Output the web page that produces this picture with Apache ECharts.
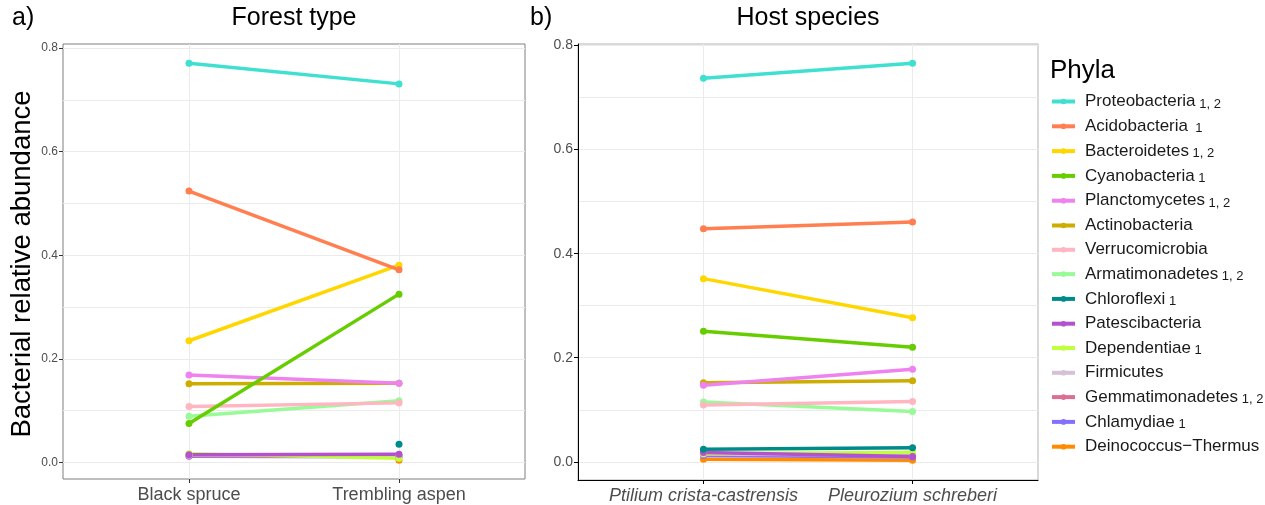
<!DOCTYPE html>
<html><head><meta charset="utf-8">
<script src="https://cdn.jsdelivr.net/npm/echarts@6/dist/echarts.min.js"></script>
<style>html,body{margin:0;padding:0;background:#fff}#c{width:1265px;height:505px}</style>
</head><body><div id="c"></div>
<script>
// ---- data ----
const phyla = ['Proteobacteria','Acidobacteria','Bacteroidetes','Cyanobacteria','Planctomycetes','Actinobacteria','Verrucomicrobia','Armatimonadetes','Chloroflexi','Patescibacteria','Dependentiae','Firmicutes','Gemmatimonadetes','Chlamydiae','Deinococcus\u2212Thermus'];
const significance = [' 1, 2','  1',' 1, 2',' 1',' 1, 2','','',' 1, 2',' 1','',' 1','',' 1, 2',' 1',''];
const colors = ['#40E0D0','#FF7F50','#FFD700','#66CD00','#EE82EE','#CDAD00','#FFB6C1','#98FB98','#008B8B','#B452CD','#C0FF3E','#D8BFD8','#DB7093','#8470FF','#FF8C00'];
const forestCategories = ['Black spruce','Trembling aspen'];
const hostCategories = ['Ptilium crista-castrensis','Pleurozium schreberi'];
const forestBlackSpruce    = [0.771,0.524,0.235,0.075,0.169,0.152,0.108,0.089,null, 0.015,0.017,0.014,0.013,0.012,null];
const forestTremblingAspen = [0.731,0.372,0.381,0.325,0.153,0.153,0.115,0.119,0.035,0.016,0.008,0.013,0.012,0.011,0.004];
const hostPtilium   = [0.737,0.448,0.352,0.251,0.147,0.152,0.109,0.115,0.024,0.018,0.016,0.015,0.015,0.012,0.005];
const hostPleurozium= [0.766,0.461,0.277,0.220,0.178,0.156,0.116,0.0965,0.027,0.010,0.018,0.013,0.011,0.009,0.003];
const yTicks = [0,0.2,0.4,0.6,0.8];
const yGrid = [0,0.1,0.2,0.3,0.4,0.5,0.6,0.7,0.8];
const xPos = [1,2];

const chart = echarts.init(document.getElementById('c'), null, {renderer:'canvas'});
const gridLine = {show:true, lineStyle:{color:'#ebebeb', width:1}};
const FONT = 'Arial, "Liberation Sans", sans-serif';

function xAxisFor(grid, cats, italic, lineShow, tickColor){
  return {type:'value', gridIndex:grid, min:0.4, max:2.6,
    axisLine:{show:lineShow, onZero:false, lineStyle:{color:'#000'}},
    axisTick:{show:true, customValues:xPos, length:4, lineStyle:{color:tickColor}},
    axisLabel:{customValues:xPos, formatter:v=>cats[Math.round(v)-1], fontSize:18, color:'#4d4d4d', fontFamily:FONT, fontStyle:italic?'italic':'normal', margin:7},
    splitLine:gridLine};
}
function yAxesFor(grid, min, max, lineShow, tickColor, fs){
  return [
    {type:'value', gridIndex:grid, min:min, max:max, position:'left',
     axisLine:{show:lineShow, onZero:false, lineStyle:{color:'#000'}},
     axisTick:{show:true, customValues:yTicks, length:4, lineStyle:{color:tickColor}},
     axisLabel:{customValues:yTicks, formatter:v=>v.toFixed(1), fontSize:fs, color:'#4d4d4d', fontFamily:FONT, margin:5},
     splitLine:{show:false}},
    {type:'value', gridIndex:grid, min:min, max:max, position:'left',
     axisLine:{show:false}, axisLabel:{show:false},
     axisTick:{show:false, customValues:yGrid},
     splitLine:gridLine}
  ];
}

const series = [];
function addSeries(grid, leftVals, rightVals){
  // earlier phyla are drawn on top, so add in reverse order
  for (let i = phyla.length - 1; i >= 0; i--) {
    const data = [];
    if (leftVals[i] !== null) data.push([xPos[0], leftVals[i]]);
    if (rightVals[i] !== null) data.push([xPos[1], rightVals[i]]);
    series.push({type:'line', name:phyla[i], xAxisIndex:grid, yAxisIndex:grid*2, data:data,
      color:colors[i], symbol:'circle', symbolSize:7, showSymbol:true,
      lineStyle:{width:3.5, color:colors[i]}, itemStyle:{color:colors[i]},
      emphasis:{disabled:true}, animation:false});
  }
}
addSeries(0, forestBlackSpruce, forestTremblingAspen);
addSeries(1, hostPtilium, hostPleurozium);

const tStyle = {fontSize:25, fontWeight:'normal', color:'#000', fontFamily:FONT};
const option = {
  backgroundColor:'#fff',
  animation:false,
  grid:[
    {left:63, top:44, width:462, height:435, show:true, borderColor:'#7f7f7f', borderWidth:1, backgroundColor:'transparent'},
    {left:578, top:44, width:460, height:436, show:true, borderColor:'#b3b3b3', borderWidth:1, backgroundColor:'transparent'}
  ],
  xAxis:[ xAxisFor(0, forestCategories, false, false, '#333'), xAxisFor(1, hostCategories, true, true, '#000') ],
  yAxis:[ ...yAxesFor(0, -0.032, 0.808, false, '#333', 12), ...yAxesFor(1, -0.035, 0.803, true, '#000', 14) ],
  title:[
    {text:'Forest type', left:294, top:6, textAlign:'center', padding:0, textStyle:tStyle},
    {text:'Host species', left:808, top:6, textAlign:'center', padding:0, textStyle:tStyle},
    {text:'a)', left:12, top:6, padding:0, textStyle:tStyle},
    {text:'b)', left:530, top:6, padding:0, textStyle:tStyle},
    {text:'Phyla', left:1050, top:58, padding:0, textStyle:{fontSize:26, fontWeight:'normal', color:'#000', fontFamily:FONT}}
  ],
  graphic:[
    {type:'text', x:22, y:264, rotation:Math.PI/2,
     style:{text:'Bacterial relative abundance', fontSize:27.5, fill:'#000', fontFamily:FONT, align:'center', verticalAlign:'middle'}}
  ],
  legend:{
    orient:'vertical', left:1045, top:88, itemWidth:23, itemHeight:7, itemGap:7.3,
    data:phyla, selectedMode:false,
    lineStyle:{width:4},
    formatter:name=>{const i=phyla.indexOf(name); const s=significance[i]; return '{n|'+name+'}'+(s?'{s|'+s+'}':'');},
    textStyle:{fontFamily:FONT, padding:[0,0,0,5], rich:{
      n:{fontSize:17, color:'#1a1a1a', fontFamily:FONT, lineHeight:18},
      s:{fontSize:13, color:'#1a1a1a', fontFamily:FONT, lineHeight:18, verticalAlign:'bottom'}}}
  },
  series:series
};
chart.setOption(option);
</script></body></html>
